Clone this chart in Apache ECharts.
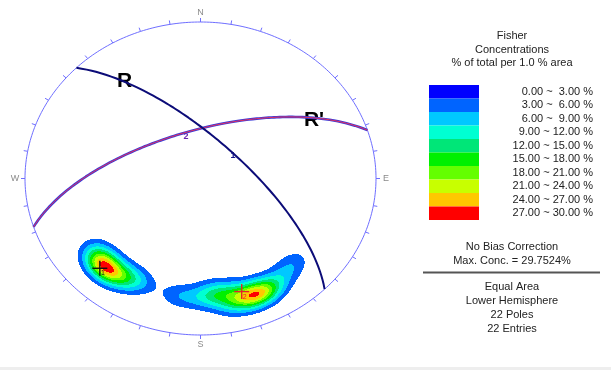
<!DOCTYPE html>
<html>
<head>
<meta charset="utf-8">
<script src="https://cdn.jsdelivr.net/npm/echarts@6/dist/echarts.min.js"></script>
<style>
  html, body { margin: 0; padding: 0; background: #ffffff; }
  #chart { width: 611px; height: 370px; }
</style>
</head>
<body>
<div id="chart"></div>
<script>
// ---- Joint-set mean planes (dip direction / dip, degrees) ----
const planeNames = ['R', "R'"];
const planeSetIds = ['1', '2'];
const planeDipDir = [45, 342];
const planeDip = [70, 65];

// ---- Measured poles (trend / plunge, degrees) ----
const poleTrend = [224, 224, 227, 220, 227, 228, 218, 214, 209,
                   189, 178, 173, 170, 166, 164, 160, 157, 156, 156, 153, 147, 137];
const polePlunge = [21, 21, 22, 24, 25, 26, 23, 25, 27,
                    25, 25, 28, 25, 18, 24, 21, 21, 19, 21, 20, 22, 25];

// ---- Contour bands (% of total per 1.0 % area) ----
const bandLabels = ['0.00 ~  3.00 %', '3.00 ~  6.00 %', '6.00 ~  9.00 %', '9.00 ~ 12.00 %',
                    '12.00 ~ 15.00 %', '15.00 ~ 18.00 %', '18.00 ~ 21.00 %', '21.00 ~ 24.00 %',
                    '24.00 ~ 27.00 %', '27.00 ~ 30.00 %'];
const bandColors = ['#0000ff', '#0064ff', '#00c8ff', '#00ffd2', '#00e678',
                    '#00f000', '#64ff00', '#c8ff00', '#ffc800', '#ff0000'];
const bandStep = 3;

// ---- Legend / info texts ----
const headerLines = ['Fisher', 'Concentrations', '% of total per 1.0 % area'];
const infoTop = ['No Bias Correction', 'Max. Conc. = 29.7524%'];
const infoBottom = ['Equal Area', 'Lower Hemisphere', '22 Poles', '22 Entries'];
const cardinalLabels = { 0: 'N', 90: 'E', 180: 'S', 270: 'W' };
const tickAngles = [];
for (let a = 0; a < 360; a += 10) tickAngles.push(a);

const fisherK = 110;
const D2R = Math.PI / 180;

// Equal-area, lower-hemisphere projection of a line (trend, plunge)
function project(trend, plunge) {
  const r = Math.SQRT2 * Math.sin((90 - plunge) * D2R / 2);
  return [r * Math.sin(trend * D2R), r * Math.cos(trend * D2R)];
}

// Trace of a plane (great circle) from its dip direction and dip
function greatCircle(dipDir, dip) {
  const pts = [];
  for (let d = -90; d <= 90; d += 1) {
    const t = dipDir + d;
    const p = Math.atan(Math.tan(dip * D2R) * Math.cos(d * D2R)) / D2R;
    pts.push(project(t, Math.max(p, 0)));
  }
  return pts;
}

// Primitive circle
const primitive = [];
for (let a = 0; a <= 360; a += 1) primitive.push([Math.sin(a * D2R), Math.cos(a * D2R)]);

// Fisher density of the poles over the net (% of total per 1 % area)
const poleVec = poleTrend.map((t, i) => {
  const tr = t * D2R, pl = polePlunge[i] * D2R;
  return [Math.cos(pl) * Math.sin(tr), Math.cos(pl) * Math.cos(tr), Math.sin(pl)];
});
function density(X, Y) {
  const rr = X * X + Y * Y;
  if (rr > 1) return -1;
  const h = Math.sqrt(2 - rr);
  const e = X * h, n = Y * h, d = 1 - rr;
  let s = 0;
  for (const v of poleVec) {
    const c = Math.abs(e * v[0] + n * v[1] + d * v[2]);
    s += Math.exp(fisherK * (c - 1));
  }
  return fisherK / poleVec.length * s;
}

// Sample the density and collect horizontal runs of equal band
const cols = 351, rows = 313;
const runs = [];
for (let j = 0; j < rows; j++) {
  const yTop = 1 - 2 * j / rows, yBot = 1 - 2 * (j + 1) / rows, yc = (yTop + yBot) / 2;
  let cur = 0, start = 0;
  for (let i = 0; i <= cols; i++) {
    let lvl = 0;
    if (i < cols) {
      const dv = density(-1 + 2 * (i + 0.5) / cols, yc);
      lvl = dv < bandStep ? 0 : Math.min(bandColors.length - 1, Math.floor(dv / bandStep));
    }
    if (lvl !== cur) {
      if (cur > 0) runs.push([-1 + 2 * start / cols, -1 + 2 * i / cols, yTop, yBot, cur]);
      cur = lvl; start = i;
    }
  }
}

// Poles of the mean planes and the dip-direction points
const setPoles = planeDipDir.map((dd, i) => project((dd + 180) % 360, 90 - planeDip[i]).concat([i]));
const setDipPts = planeDipDir.map((dd, i) => project(dd, planeDip[i]).concat([i]));
const crossColors = ['#111111', '#e8202a'];
const planeMarkColors = ['#14148a', '#6a28b0'];

const chart = echarts.init(document.getElementById('chart'), null, { renderer: 'canvas' });

const FONT = '"Liberation Sans", Arial, sans-serif';
const graphics = [];
headerLines.forEach((t, i) => graphics.push({
  type: 'text', x: 512, y: 36 + 13.5 * i,
  style: { text: t, font: '11px ' + FONT, fill: '#222', align: 'center', verticalAlign: 'middle' }
}));
bandColors.forEach((c, i) => {
  graphics.push({ type: 'rect', shape: { x: 429, y: 85 + 13.5 * i, width: 50, height: 13.5 }, style: { fill: c } });
  graphics.push({ type: 'text', x: 593, y: 91.75 + 13.5 * i,
    style: { text: bandLabels[i], font: '11px ' + FONT, fill: '#222', align: 'right', verticalAlign: 'middle' } });
});
infoTop.forEach((t, i) => graphics.push({ type: 'text', x: 512, y: 247 + 14.3 * i,
  style: { text: t, font: '11px ' + FONT, fill: '#222', align: 'center', verticalAlign: 'middle' } }));
graphics.push({ type: 'line', shape: { x1: 423, y1: 272.5, x2: 600, y2: 272.5 }, style: { stroke: '#555', lineWidth: 2 } });
infoBottom.forEach((t, i) => graphics.push({ type: 'text', x: 512, y: 286.5 + 14 * i,
  style: { text: t, font: '11px ' + FONT, fill: '#222', align: 'center', verticalAlign: 'middle' } }));
graphics.push({ type: 'text', x: 124.5, y: 81, style: { text: planeNames[0], font: 'bold 21px ' + FONT, fill: '#000', align: 'center', verticalAlign: 'middle' } });
graphics.push({ type: 'text', x: 314, y: 120.5, style: { text: planeNames[1], font: 'bold 21px ' + FONT, fill: '#000', align: 'center', verticalAlign: 'middle' } });
graphics.push({ type: 'rect', shape: { x: 0, y: 367, width: 611, height: 3 }, style: { fill: '#eeeeee' } });

const option = {
  animation: false,
  backgroundColor: '#ffffff',
  grid: { left: 25, top: 22, width: 351, height: 313, containLabel: false },
  xAxis: { type: 'value', min: -1, max: 1, show: false },
  yAxis: { type: 'value', min: -1, max: 1, show: false },
  graphic: graphics,
  series: [
    {
      name: 'density', type: 'custom', silent: true, clip: false, data: runs,
      renderItem: (params, api) => {
        const a = api.coord([api.value(0), api.value(2)]);
        const b = api.coord([api.value(1), api.value(3)]);
        return { type: 'rect', shape: { x: a[0], y: a[1], width: b[0] - a[0], height: b[1] - a[1] },
                 style: { fill: bandColors[api.value(4)] } };
      }
    },
    {
      name: 'primitive', type: 'line', data: primitive, symbol: 'none', silent: true, clip: false,
      lineStyle: { color: '#6f6fff', width: 1 }
    },
    {
      name: 'ticks', type: 'custom', silent: true, clip: false,
      data: tickAngles.map(a => [a, 0]),
      renderItem: (params, api) => {
        const ang = api.value(0);
        const s = Math.sin(ang * D2R), c = Math.cos(ang * D2R);
        const p = api.coord([s, c]);
        const children = [{ type: 'line', shape: { x1: p[0], y1: p[1], x2: p[0] + 4 * s, y2: p[1] - 4 * c },
                            style: { stroke: '#6f6fff', lineWidth: 1 } }];
        if (cardinalLabels[ang]) {
          children.push({ type: 'text', x: p[0] + 10 * s, y: p[1] - 9.5 * c,
            style: { text: cardinalLabels[ang], font: '9px ' + FONT, fill: '#8a8a8a', align: 'center', verticalAlign: 'middle' } });
        }
        return { type: 'group', children };
      }
    },
    {
      name: planeNames[1] + ' edge', type: 'line', data: greatCircle(planeDipDir[1], planeDip[1]),
      symbol: 'none', silent: true, clip: false, lineStyle: { color: '#3a3ad8', width: 2.6 }
    },
    {
      name: planeNames[1], type: 'line', data: greatCircle(planeDipDir[1], planeDip[1]),
      symbol: 'none', silent: true, clip: false, lineStyle: { color: '#e8305a', width: 1 }
    },
    {
      name: planeNames[0], type: 'line', data: greatCircle(planeDipDir[0], planeDip[0]),
      symbol: 'none', silent: true, clip: false, lineStyle: { color: '#0c0c78', width: 2 }
    },
    {
      name: 'set poles', type: 'custom', silent: true, clip: false, data: setPoles,
      renderItem: (params, api) => {
        const p = api.coord([api.value(0), api.value(1)]);
        const col = crossColors[api.value(2)];
        const L = 7.5;
        return { type: 'group', children: [
          { type: 'line', shape: { x1: p[0] - L, y1: p[1], x2: p[0] + L, y2: p[1] }, style: { stroke: col, lineWidth: 1.4 } },
          { type: 'line', shape: { x1: p[0], y1: p[1] - L, x2: p[0], y2: p[1] + L }, style: { stroke: col, lineWidth: 1.4 } },
          { type: 'text', x: p[0] + 3, y: p[1] + 5, style: { text: planeSetIds[api.value(2)], font: '7px ' + FONT, fill: col, align: 'center', verticalAlign: 'middle' } }
        ] };
      }
    },
    {
      name: 'set labels', type: 'custom', silent: true, clip: false, data: setDipPts,
      renderItem: (params, api) => {
        const p = api.coord([api.value(0), api.value(1)]);
        return { type: 'text', x: p[0] + 2, y: p[1] + 4,
          style: { text: planeSetIds[api.value(2)], font: 'bold 9px ' + FONT, fill: planeMarkColors[api.value(2)], align: 'center', verticalAlign: 'middle' } };
      }
    }
  ]
};
chart.setOption(option);
</script>
</body>
</html>
